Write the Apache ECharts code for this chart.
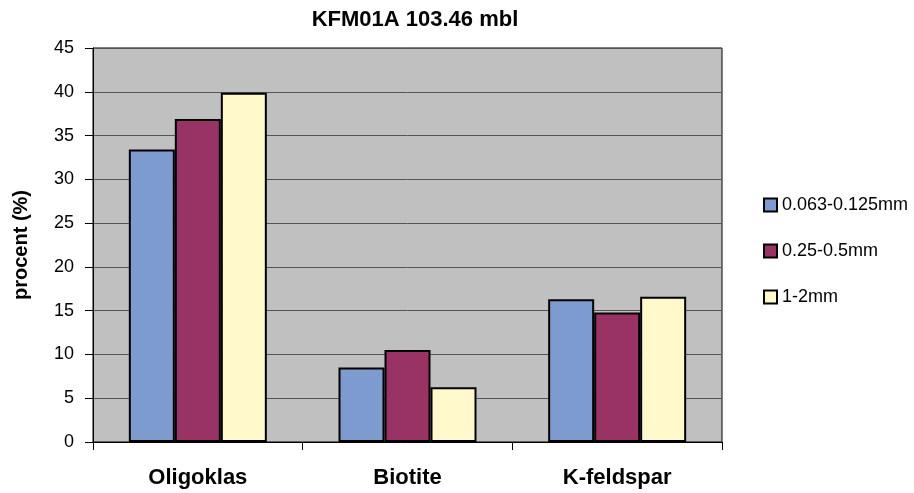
<!DOCTYPE html>
<html>
<head>
<meta charset="utf-8">
<script src="https://cdn.jsdelivr.net/npm/echarts@6/dist/echarts.min.js"></script>
<style>html,body{margin:0;padding:0;background:#fff;}#c{width:914px;height:493px;}</style>
</head>
<body>
<div id="c"></div>
<script>
var categories = ['Oligoklas', 'Biotite', 'K-feldspar'];
var seriesNames = ['0.063-0.125mm', '0.25-0.5mm', '1-2mm'];
var s1 = [33.4, 8.5, 16.3];
var s2 = [36.9, 10.5, 14.8];
var s3 = [39.9, 6.25, 16.6];
var yTicks = [0, 5, 10, 15, 20, 25, 30, 35, 40, 45];
var colors = ['#7E9BCF', '#993366', '#FFF9CC'];

var chart = echarts.init(document.getElementById('c'), null, {renderer: 'canvas'});
var data = [s1, s2, s3];
var series = seriesNames.map(function (n, i) {
  return {
    name: n, type: 'bar', data: data[i], barWidth: 46, barGap: '0%',
    itemStyle: {color: colors[i], borderColor: '#000', borderWidth: 2},
    emphasis: {disabled: true}
  };
});
var FF = 'Liberation Sans, Arial';
chart.setOption({
  animation: false,
  title: {text: 'KFM01A 103.46 mbl', left: 410, textAlign: 'center', top: 4,
    textStyle: {fontFamily: FF, fontSize: 22, fontWeight: 'bold', color: '#000'}},
  grid: {left: 93, right: 192, top: 48, bottom: 51, show: true, backgroundColor: '#C0C0C0', borderColor: '#000', borderWidth: 1},
  legend: {orient: 'vertical', left: 758, top: 191, itemWidth: 13, itemHeight: 13, itemGap: 28, icon: 'rect',
    textStyle: {fontFamily: FF, fontSize: 18, color: '#000'},
    data: seriesNames},
  xAxis: {type: 'category', data: categories,
    axisLine: {lineStyle: {color: '#000'}},
    axisTick: {show: true, length: 8, lineStyle: {color: '#000'}},
    axisLabel: {fontFamily: FF, fontSize: 22, fontWeight: 'bold', color: '#000', margin: 25}},
  yAxis: {type: 'value', min: 0, max: 45, interval: 5,
    name: 'procent (%)', nameLocation: 'middle', nameGap: 62,
    nameTextStyle: {fontFamily: FF, fontSize: 20, fontWeight: 'bold', color: '#000'},
    axisLine: {show: true, lineStyle: {color: '#000'}},
    axisTick: {show: true, length: 8, lineStyle: {color: '#000'}},
    axisLabel: {fontFamily: FF, fontSize: 18, color: '#000', margin: 19,
      formatter: function (v) { return yTicks.indexOf(v) >= 0 ? String(v) : ''; }},
    splitLine: {lineStyle: {color: '#555', width: 1}}},
  series: series
});
</script>
</body>
</html>
